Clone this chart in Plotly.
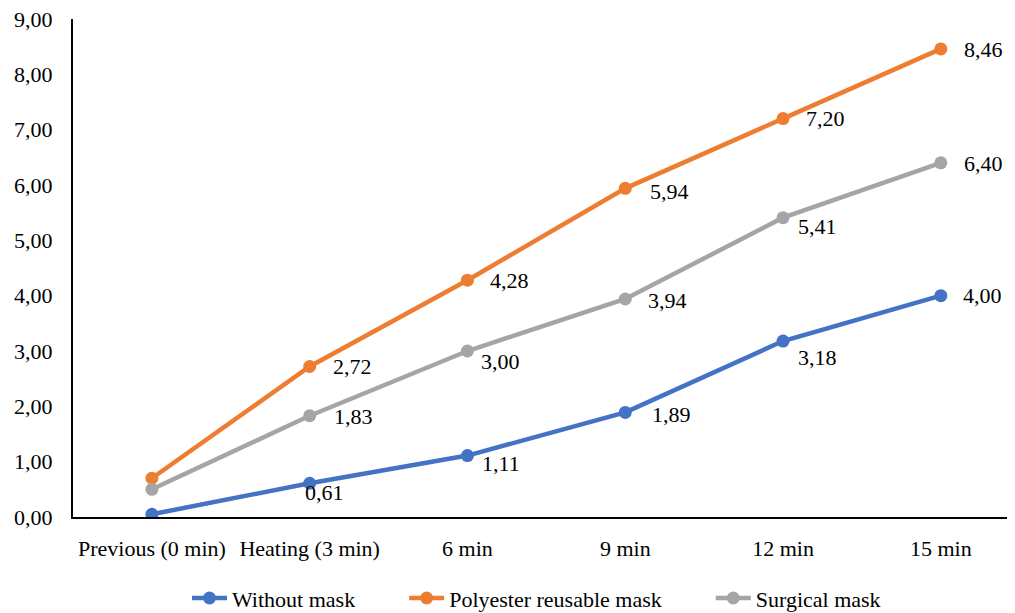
import plotly.graph_objects as go

categories = ["Previous (0 min)", "Heating (3 min)", "6 min", "9 min", "12 min", "15 min"]
without_mask = [0.05, 0.61, 1.11, 1.89, 3.18, 4.00]
polyester = [0.70, 2.72, 4.28, 5.94, 7.20, 8.46]
surgical = [0.50, 1.83, 3.00, 3.94, 5.41, 6.40]

series = [
    ("Without mask", without_mask, "#4472C4"),
    ("Polyester reusable mask", polyester, "#ED7D31"),
    ("Surgical mask", surgical, "#A5A5A5"),
]

# label offsets (xshift, yshift) per point; None = no label
label_offsets = {
    "Without mask": [None, (-7, -9), (13, -8), (25, -2), (13, -16), (20, 0)],
    "Polyester reusable mask": [None, (21, 0), (21, 0), (23, -3), (21, 0), (21, -1)],
    "Surgical mask": [None, (22, -1), (12, -10), (21, -2), (13, -9), (21, -1)],
}

FONT = "Liberation Serif, Times New Roman, serif"
FS = 22
PAD = "\u00a0" * 8  # spacing between legend entries

fig = go.Figure()
annotations = []
for k, (name, vals, color) in enumerate(series):
    fig.add_trace(go.Scatter(
        x=categories, y=vals, name=name + (PAD if k < len(series) - 1 else ""),
        mode="lines+markers",
        line=dict(color=color, width=4.5),
        marker=dict(color=color, size=13),
    ))
    for i, (c, v) in enumerate(zip(categories, vals)):
        off = label_offsets[name][i]
        if off is None:
            continue
        annotations.append(dict(
            x=c, y=v, xref="x", yref="y", text=f"{v:.2f}".replace(".", ","),
            showarrow=False, xanchor="left", yanchor="middle",
            xshift=off[0], yshift=off[1],
            font=dict(family=FONT, size=FS, color="#000000"),
        ))

fig.update_layout(
    width=1007, height=605,
    margin=dict(l=65, r=0, t=11, b=96, autoexpand=False),
    paper_bgcolor="white", plot_bgcolor="white",
    separators=",.",
    font=dict(family=FONT, size=FS, color="#000000"),
    showlegend=True,
    legend=dict(orientation="h", x=0.121, xanchor="left", y=-0.163, yanchor="middle",
                font=dict(family=FONT, size=FS), itemwidth=35, tracegroupgap=0),
    annotations=annotations,
    xaxis=dict(range=[-0.5, 5.47], showgrid=False, showline=True, linecolor="#000000",
               linewidth=2, ticks="", ticklabelstandoff=11, zeroline=False, automargin=False,
               tickfont=dict(family=FONT, size=FS)),
    yaxis=dict(range=[0, 9], dtick=1, tickformat=".2f", showgrid=False, showline=True,
               linecolor="#000000", linewidth=2, ticks="", ticklabelstandoff=14,
               zeroline=False, automargin=False, ticklabeloverflow="allow",
               tickfont=dict(family=FONT, size=FS)),
)

fig.write_html("out.html")
